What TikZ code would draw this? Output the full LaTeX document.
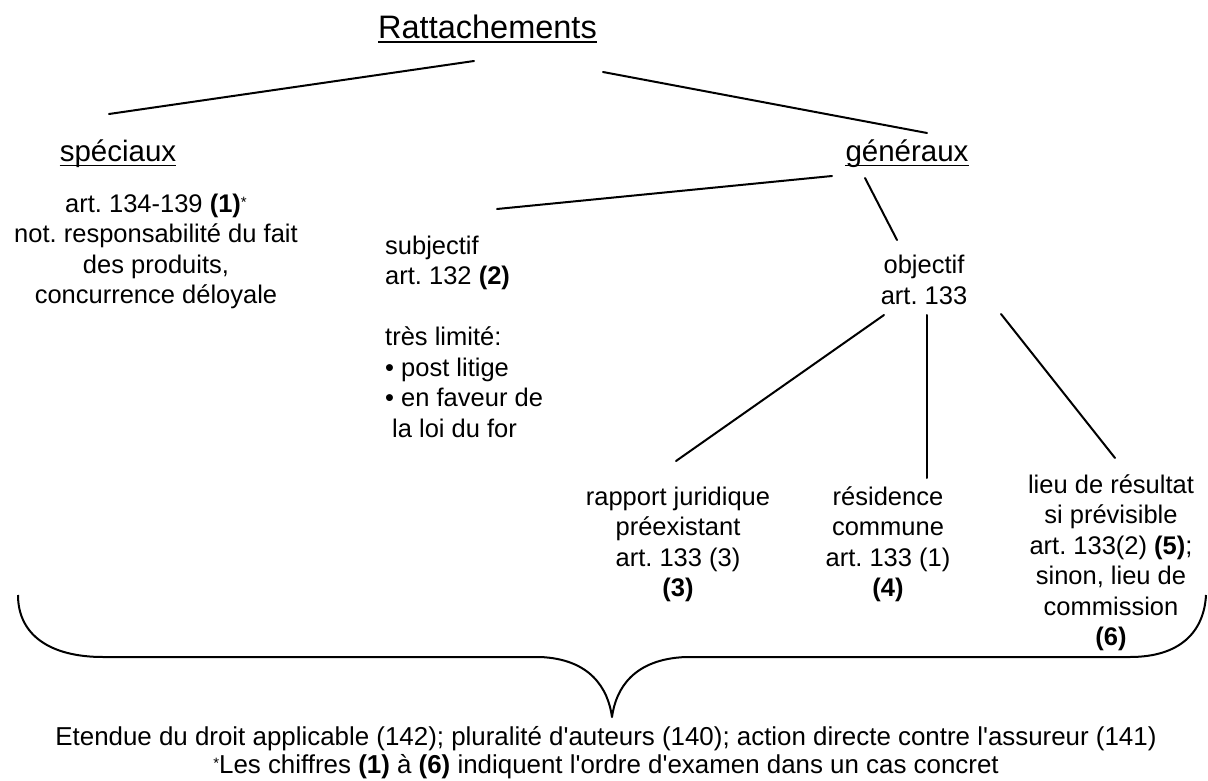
\documentclass[tikz,border=0pt]{standalone}
\usepackage{fontspec}
\setmainfont{Liberation Sans}[Ligatures=TeXOff]
\newcommand{\notemark}{\raisebox{5pt}{\fontsize{15}{15}\selectfont *}}
\begin{document}
\frenchspacing
\begin{tikzpicture}[x=1pt,y=-1pt,
  % multi-line nodes are placed by the baseline of their last line
  txt/.style={inner sep=0pt, anchor=base, align=center, font=\fontsize{25.5}{30.5}\selectfont},
  head/.style={inner sep=0pt, anchor=base, font=\fontsize{29.5}{34}\selectfont},
  link/.style={line width=2pt, line cap=round},
  uline/.style={line width=1.5pt},
  brace/.style={line width=2pt, line join=round}]
\useasboundingbox (0,0) rectangle (1208,781);

% headings
\node[head, font=\fontsize{32.5}{36}\selectfont] (title) at (487.5,38.5) {Rattachements};
\node[head] (spec) at (118,162) {spéciaux};
\node[head] (gen) at (907,162) {généraux};
\foreach \n in {title,spec,gen}
  \draw[uline] ([yshift=-3.5pt]\n.base west) -- ([yshift=-3.5pt]\n.base east);

% special connecting factors
\node[txt] (spectext) at (156,303.5) {art. 134-139 \textbf{(1)}\notemark\\
  not. responsabilité du fait\\ des produits,\\ concurrence déloyale};

% subjective connecting factor
\node[txt, align=left, anchor=base west] (subj) at (385,437) {subjectif\\
  art. 132 \textbf{(2)}\\[30.5pt]
  très limité:\\ • post litige\\ • en faveur de\\ \hspace*{7pt}la loi du for};

% objective connecting factor and its branches
\node[txt] (obj) at (924,304) {objectif\\ art. 133};
\node[txt] (rapport) at (678,596.5) {rapport juridique\\ préexistant\\ art. 133 (3)\\ \textbf{(3)}};
\node[txt] (resid) at (888,596.5) {résidence\\ commune\\ art. 133 (1)\\ \textbf{(4)}};
\node[txt] (lieu) at (1111,645.5) {lieu de résultat\\ si prévisible\\ art. 133(2) \textbf{(5)};\\ sinon, lieu de\\ commission\\ \textbf{(6)}};

% common rules under the brace
\node[txt, font=\fontsize{25.9}{28}\selectfont] (common) at (606,773)
  {Etendue du droit applicable (142); pluralité d'auteurs (140); action directe contre l'assureur (141)\\
   \notemark Les chiffres \textbf{(1)} à \textbf{(6)} indiquent l'ordre d'examen dans un cas concret};

% connector end points
\coordinate (t1) at (474,61);   \coordinate (s1) at (109,114);
\coordinate (t2) at (603,72);   \coordinate (g1) at (927,133);
\coordinate (g2) at (832,176);  \coordinate (sj) at (497,209);
\coordinate (g3) at (865,178);  \coordinate (ob) at (897,240);
\coordinate (o1) at (884,315);  \coordinate (ra) at (676,461);
\coordinate (o2) at (927,315);  \coordinate (re) at (927,478);
\coordinate (o3) at (1001,314); \coordinate (li) at (1115,458);

\draw[link] (t1) -- (s1);
\draw[link] (t2) -- (g1);
\draw[link] (g2) -- (sj);
\draw[link] (g3) -- (ob);
\draw[link] (o1) -- (ra);
\draw[link] (o2) -- (re);
\draw[link] (o3) -- (li);

% the large brace
\coordinate (bl) at (18,595);
\coordinate (tip) at (612,717);
\coordinate (br) at (1206,595);
\draw[brace] (bl) .. controls (18,635) and (50,657) .. (103,657) -- (540,657)
  .. controls (590,659) and (608,688) .. (tip)
  .. controls (616,688) and (634,659) .. (686,657) -- (1130,657)
  .. controls (1180,657) and (1204,632) .. (br);
\end{tikzpicture}
\end{document}
